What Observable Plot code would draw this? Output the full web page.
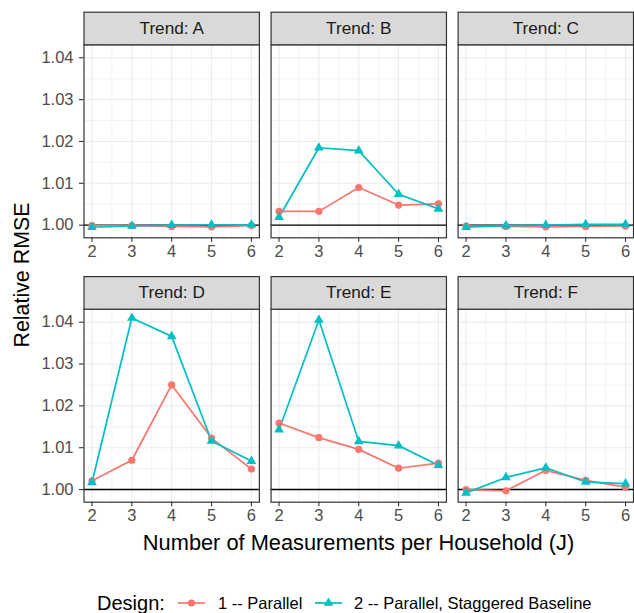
<!DOCTYPE html>
<html><head><meta charset="utf-8">
<script src="https://cdn.jsdelivr.net/npm/d3@7"></script>
<script src="https://cdn.jsdelivr.net/npm/@observablehq/plot@0.6"></script>
<style>
body{margin:0;background:#fff;}
#wrap{position:relative;width:634px;height:613px;font-family:"Liberation Sans",Arial,Helvetica,sans-serif;color:#000;overflow:hidden;}
#wrap svg.plot{position:absolute;left:0;top:0;}
.lab{position:absolute;white-space:nowrap;}
</style></head><body><div id="wrap"></div>
<script>
// ---- data ----
const J = [2, 3, 4, 5, 6];
const trends = ["A", "B", "C", "D", "E", "F"];
const panelLabels = ["Trend: A", "Trend: B", "Trend: C", "Trend: D", "Trend: E", "Trend: F"];
const designs = ["1 -- Parallel", "2 -- Parallel, Staggered Baseline"];
// Relative RMSE, design 1 (Parallel), one row per trend A..F, values at J = 2..6
const parallel = [
  [0.9999, 0.9999, 0.9997, 0.9996, 0.9999],
  [1.0033, 1.0033, 1.0090, 1.0048, 1.0051],
  [0.9998, 0.9997, 0.9996, 0.9997, 0.9998],
  [1.0021, 1.0070, 1.0250, 1.0123, 1.0049],
  [1.0159, 1.0124, 1.0096, 1.0051, 1.0063],
  [1.0000, 0.9997, 1.0046, 1.0022, 1.0006]
];
// Relative RMSE, design 2 (Parallel, Staggered Baseline)
const staggered = [
  [0.9995, 0.9998, 1.0000, 1.0001, 1.0001],
  [1.0019, 1.0185, 1.0178, 1.0074, 1.0039],
  [0.9995, 0.9999, 1.0000, 1.0002, 1.0002],
  [1.0017, 1.0410, 1.0366, 1.0116, 1.0068],
  [1.0143, 1.0405, 1.0115, 1.0105, 1.0058],
  [0.9992, 1.0029, 1.0052, 1.0018, 1.0014]
];
const yTicks = [1.00, 1.01, 1.02, 1.03, 1.04];
const yMinor = [1.005, 1.015, 1.025, 1.035];
const xMinor = [2.5, 3.5, 4.5, 5.5];
const colors = ["#F8766D", "#00BFC4"];

// ---- table for the library ----
const rows = [];
[parallel, staggered].forEach((series, d) => {
  trends.forEach((t, i) => {
    J.forEach((j, k) => rows.push({trend: t, col: i % 3, row: Math.floor(i / 3), J: j, design: designs[d], rmse: series[i][k]}));
  });
});
const panels = trends.map((t, i) => ({col: i % 3, row: Math.floor(i / 3), label: panelLabels[i]}));

// ---- layout ----
const W = 634, H = 530, mL = 83.5, mR = 1, mT = 44.3, mB = H - 501.7;
const pX = 0.0625, pY = 0.27, stripH = 32.6;
const bwY = (H - mT - mB) / (2 - pY) * (1 - pY);
const fs = 16.5, r = 3.6;

const chart = Plot.plot({
  width: W, height: H,
  marginLeft: mL, marginRight: mR, marginTop: mT, marginBottom: mB,
  style: {fontFamily: '"Liberation Sans", Arial, Helvetica, sans-serif', fontSize: fs + "px", background: "transparent", overflow: "visible"},
  fx: {axis: null, paddingInner: pX, paddingOuter: 0, round: false},
  fy: {axis: null, paddingInner: pY, paddingOuter: 0, round: false},
  x: {domain: [1.8, 6.2]},
  y: {domain: [0.99698, 1.0431]},
  color: {domain: designs, range: colors},
  symbol: {domain: designs, range: ["circle", "triangle"]},
  marks: [
    Plot.ruleX(xMinor, {stroke: "#ebebeb", strokeWidth: 0.6}),
    Plot.ruleY(yMinor, {stroke: "#ebebeb", strokeWidth: 0.6}),
    Plot.ruleX(J, {stroke: "#ebebeb", strokeWidth: 1.1}),
    Plot.ruleY(yTicks, {stroke: "#ebebeb", strokeWidth: 1.1}),
    Plot.ruleY([1], {stroke: "#000", strokeWidth: 1.4}),
    Plot.line(rows, {x: "J", y: "rmse", z: "design", stroke: "design", fx: "col", fy: "row", strokeWidth: 1.7}),
    Plot.dot(rows, {x: "J", y: "rmse", fill: "design", symbol: "design", fx: "col", fy: "row", r: r, stroke: null}),
    Plot.frame({stroke: "#333", strokeWidth: 1.2}),
    Plot.frame({fill: "#d9d9d9", stroke: "#333", strokeWidth: 1.2, insetTop: -stripH, insetBottom: bwY}),
    Plot.text(panels, {fx: "col", fy: "row", text: "label", frameAnchor: "top", lineAnchor: "middle", dy: -stripH / 2, fontSize: 17.2, fill: "#1a1a1a"}),
    Plot.axisX(J, {facetAnchor: null, tickSize: 4.5, tickPadding: 3, fontSize: fs, stroke: "#333", fill: "#4d4d4d", strokeWidth: 1.1, label: null}),
    Plot.axisY(yTicks, {tickSize: 4.5, tickPadding: 6, fontSize: fs, tickFormat: d3.format(".2f"), stroke: "#333", fill: "#4d4d4d", strokeWidth: 1.1, label: null})
  ]
});
chart.classList.add("plot");
const wrap = document.getElementById("wrap");
wrap.appendChild(chart);

function lab(text, x, y, size, rotate) {
  const d = document.createElement("div");
  d.className = "lab";
  d.textContent = text;
  d.style.left = x + "px"; d.style.top = y + "px"; d.style.fontSize = size + "px";
  d.style.transform = "translate(-50%,-50%)" + (rotate ? " rotate(-90deg)" : "");
  wrap.appendChild(d);
  return d;
}
lab("Relative RMSE", 21.5, 274.5, 21.4, true);
lab("Number of Measurements per Household (J)", 358.5, 542.5, 21.8, false);

// legend
function leftLab(text, x, y, size) {
  const d = document.createElement("div");
  d.className = "lab";
  d.textContent = text;
  d.style.left = x + "px"; d.style.top = y + "px"; d.style.fontSize = size + "px";
  d.style.transform = "translateY(-50%)";
  wrap.appendChild(d);
}
const legY = 603;
leftLab("Design:", 97, legY, 20);
function key(x, i) {
  const ns = "http://www.w3.org/2000/svg";
  const s = document.createElementNS(ns, "svg");
  s.setAttribute("width", 28); s.setAttribute("height", 14);
  s.style.position = "absolute"; s.style.left = x + "px"; s.style.top = (legY - 7) + "px";
  const l = document.createElementNS(ns, "line");
  l.setAttribute("x1", 0); l.setAttribute("x2", 27); l.setAttribute("y1", 7); l.setAttribute("y2", 7);
  l.setAttribute("stroke", colors[i]); l.setAttribute("stroke-width", 1.7);
  s.appendChild(l);
  const p = document.createElementNS(ns, "path");
  p.setAttribute("d", d3.symbol(i ? d3.symbolTriangle : d3.symbolCircle, Math.PI * r * r)());
  p.setAttribute("transform", "translate(13.5,7)");
  p.setAttribute("fill", colors[i]);
  s.appendChild(p);
  wrap.appendChild(s);
}
key(178, 0);
leftLab(designs[0], 218, legY, fs);
key(315, 1);
leftLab(designs[1], 354, legY, fs);
</script></body></html>
